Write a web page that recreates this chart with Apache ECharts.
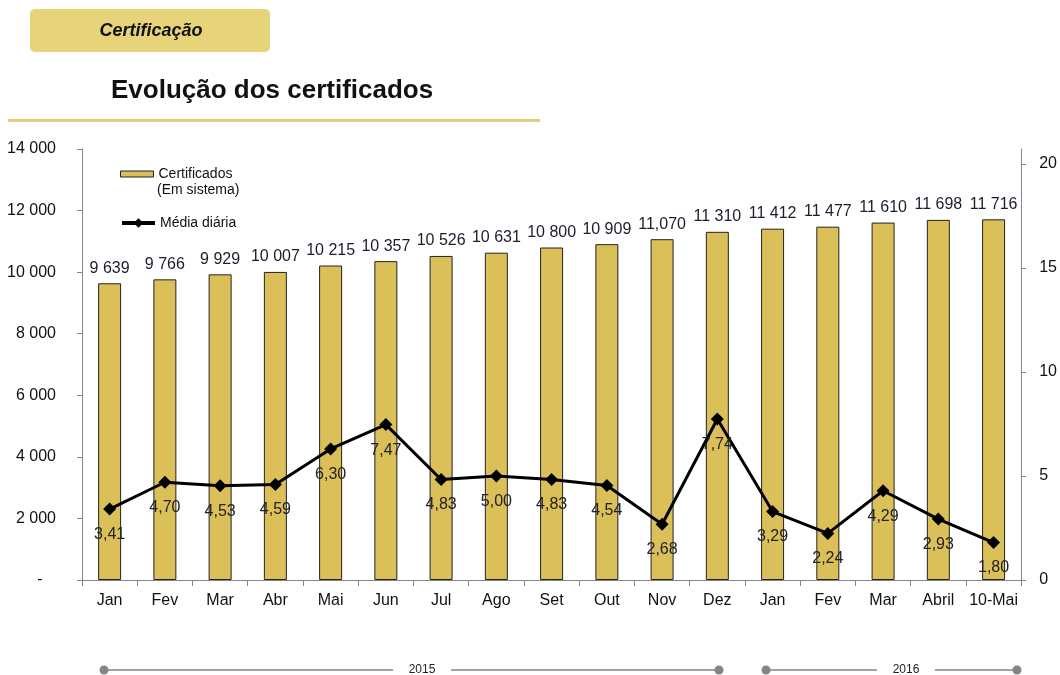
<!DOCTYPE html>
<html>
<head>
<meta charset="utf-8">
<script src="https://cdn.jsdelivr.net/npm/echarts@6/dist/echarts.min.js"></script>
<style>
    html, body { margin: 0; padding: 0; background: #fff; }
    #chart { width: 1060px; height: 675px; }
</style>
</head>
<body>
<div id="chart"></div>
<script>
    // months (2015 Jan .. 2016 10-Mai)
    var MONTHS = ['Jan', 'Fev', 'Mar', 'Abr', 'Mai', 'Jun', 'Jul', 'Ago', 'Set', 'Out', 'Nov', 'Dez',
                  'Jan', 'Fev', 'Mar', 'Abril', '10-Mai'];

    // certificados em sistema
    var CERTIFICADOS = [9639, 9766, 9929, 10007, 10215, 10357, 10526, 10631, 10800, 10909, 11070,
                        11310, 11412, 11477, 11610, 11698, 11716];

    // labels as printed over the bars
    var CERT_LABELS = ['9 639', '9 766', '9 929', '10 007', '10 215', '10 357', '10 526', '10 631', '10 800',
                       '10 909', '11,070', '11 310', '11 412', '11 477', '11 610', '11 698', '11 716'];

    // media diaria
    var MEDIA = [3.41, 4.70, 4.53, 4.59, 6.30, 7.47, 4.83, 5.00, 4.83, 4.54, 2.68, 7.74,
                 3.29, 2.24, 4.29, 2.93, 1.80];

    var GOLD = '#DBC05A';
    var GREY = '#858585';
    var FONT = '"Liberation Sans", Arial, sans-serif';

    var chart = echarts.init(document.getElementById('chart'), null, { renderer: 'canvas' });

    //
    function thousands(v) {
        if (v === 0) {
            return '-   ';
        }
        return String(v).replace(/\B(?=(\d{3})+(?!\d))/g, ' ');
    }

    //
    var option = {
        backgroundColor: '#fff',
        animation: false,
        textStyle: { fontFamily: FONT },
        grid: { left: 82, right: 35, top: 149, bottom: 95 },
        legend: [
            {
                left: 120,
                top: 167,
                padding: 0,
                itemWidth: 33,
                itemHeight: 6,
                data: [{ name: 'Certificados', icon: 'rect', itemStyle: { color: GOLD, borderColor: '#222', borderWidth: 1 } }],
                textStyle: { fontSize: 14, color: '#111', fontFamily: FONT }
            },
            {
                left: 120,
                top: 216,
                padding: 0,
                itemWidth: 33,
                itemHeight: 12,
                data: [{ name: 'Média diária', lineStyle: { color: '#000', width: 4 }, itemStyle: { color: '#000' } }],
                textStyle: { fontSize: 14, color: '#111', fontFamily: FONT }
            }
        ],
        xAxis: {
            type: 'category',
            data: MONTHS,
            axisLine: { lineStyle: { color: GREY, width: 1 } },
            axisTick: { show: true, length: 6, lineStyle: { color: GREY } },
            axisLabel: { fontSize: 16, color: '#111', margin: 13, interval: 0 }
        },
        yAxis: [
            {
                type: 'value',
                min: 0,
                max: 14000,
                interval: 2000,
                splitLine: { show: false },
                axisLine: { show: true, lineStyle: { color: GREY } },
                axisTick: { show: true, length: 5, lineStyle: { color: GREY } },
                axisLabel: { fontSize: 16, color: '#111', margin: 26, formatter: thousands }
            },
            {
                type: 'value',
                min: 0,
                max: 20.72,
                interval: 5,
                splitLine: { show: false },
                axisLine: { show: true, lineStyle: { color: GREY } },
                axisTick: { show: true, length: 5, lineStyle: { color: GREY } },
                axisLabel: {
                    fontSize: 16, color: '#111', margin: 18, showMaxLabel: false,
                    formatter: function (v) { return v % 5 === 0 ? String(v) : ''; }
                }
            }
        ],
        series: [
            {
                name: 'Certificados',
                type: 'bar',
                data: CERTIFICADOS,
                barWidth: 23,
                itemStyle: { color: GOLD, borderColor: '#222', borderWidth: 1 },
                label: {
                    show: true,
                    position: 'top',
                    distance: 7,
                    fontSize: 16,
                    color: '#1c1c2c',
                    formatter: function (p) { return CERT_LABELS[p.dataIndex]; }
                }
            },
            {
                name: 'Média diária',
                type: 'line',
                yAxisIndex: 1,
                data: MEDIA,
                symbol: 'diamond',
                symbolSize: 13,
                lineStyle: { color: '#000', width: 3 },
                itemStyle: { color: '#000' },
                label: {
                    show: true,
                    position: 'bottom',
                    distance: 11,
                    fontSize: 16,
                    color: '#222',
                    formatter: function (p) { return p.value.toFixed(2).replace('.', ','); }
                },
                z: 5
            }
        ],
        graphic: [
            // section tab
            { type: 'rect', shape: { x: 30, y: 9, width: 240, height: 43, r: 5 }, style: { fill: '#E6D37A' } },
            { type: 'text', x: 151, y: 31, style: { text: 'Certificação', font: 'italic bold 18px ' + FONT, fill: '#111', align: 'center', verticalAlign: 'middle' } },
            // title + underline
            { type: 'text', x: 111, y: 91, style: { text: 'Evolução dos certificados', font: 'bold 26px ' + FONT, fill: '#111', verticalAlign: 'middle' } },
            { type: 'rect', shape: { x: 8, y: 119, width: 532, height: 3 }, style: { fill: '#E2CD80' } },
            // second line of the bar legend entry
            { type: 'text', x: 157, y: 190, style: { text: '(Em sistema)', font: '14px ' + FONT, fill: '#111', verticalAlign: 'middle' } },
            // year markers
            { type: 'line', shape: { x1: 104, y1: 670, x2: 393, y2: 670 }, style: { stroke: GREY, lineWidth: 1.5 } },
            { type: 'line', shape: { x1: 451, y1: 670, x2: 719, y2: 670 }, style: { stroke: GREY, lineWidth: 1.5 } },
            { type: 'circle', shape: { cx: 104, cy: 670, r: 4.5 }, style: { fill: GREY } },
            { type: 'circle', shape: { cx: 719, cy: 670, r: 4.5 }, style: { fill: GREY } },
            { type: 'text', x: 422, y: 670, style: { text: '2015', font: '12px ' + FONT, fill: '#222', align: 'center', verticalAlign: 'middle' } },
            { type: 'line', shape: { x1: 766, y1: 670, x2: 877, y2: 670 }, style: { stroke: GREY, lineWidth: 1.5 } },
            { type: 'line', shape: { x1: 935, y1: 670, x2: 1017, y2: 670 }, style: { stroke: GREY, lineWidth: 1.5 } },
            { type: 'circle', shape: { cx: 766, cy: 670, r: 4.5 }, style: { fill: GREY } },
            { type: 'circle', shape: { cx: 1017, cy: 670, r: 4.5 }, style: { fill: GREY } },
            { type: 'text', x: 906, y: 670, style: { text: '2016', font: '12px ' + FONT, fill: '#222', align: 'center', verticalAlign: 'middle' } }
        ]
    };

    chart.setOption(option);
</script>
</body>
</html>
